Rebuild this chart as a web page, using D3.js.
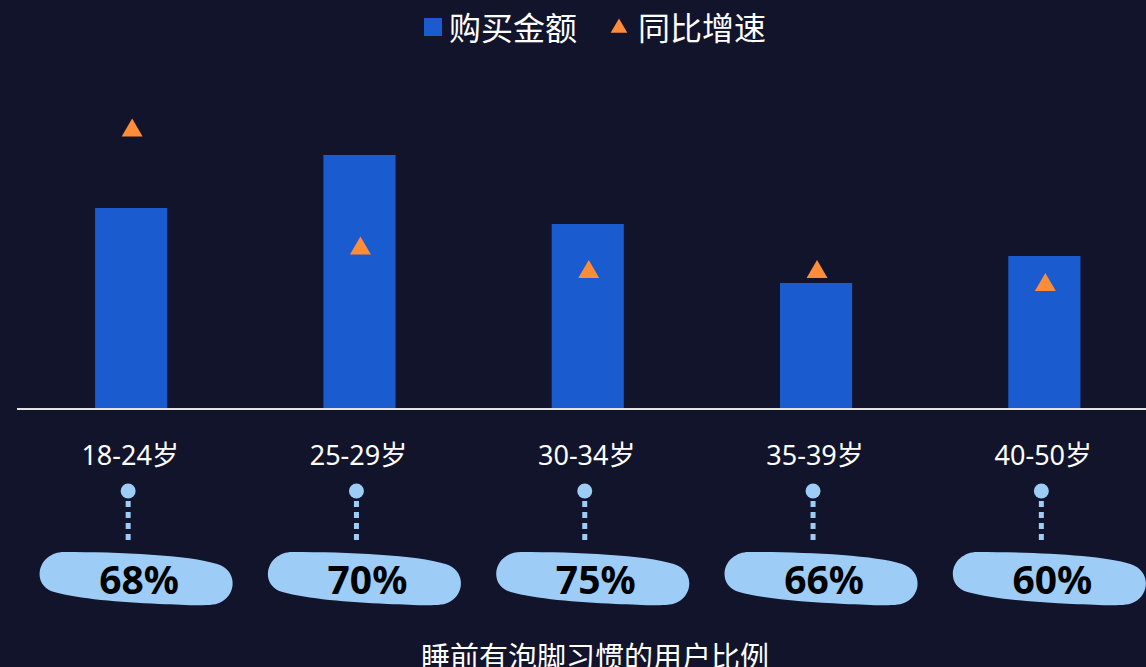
<!DOCTYPE html>
<meta charset="utf-8">
<style>
  body { margin: 0; background: #11142a; overflow: hidden; }
  svg { display: block; }
  text { font-family: "Noto Sans CJK SC", "Noto Sans", sans-serif; }
</style>
<body>
<svg width="1146" height="667"></svg>
<script src="https://d3js.org/d3.v7.min.js"></script>
<script>

// data
var ageGroups = ["18-24岁", "25-29岁", "30-34岁", "35-39岁", "40-50岁"];
var purchaseAmount = [201, 254, 185, 126, 153];
var yoyGrowth = [56.1, 32.5, 27.8, 27.8, 25.2];
var footBathShare = ["68%", "70%", "75%", "66%", "60%"];

var legendNames = ["购买金额", "同比增速"];
var bottomTitle = "睡前有泡脚习惯的用户比例";

const svg = d3.select("svg"),
  width = +svg.attr("width"),
  height = +svg.attr("height");

const barColor = "#1a5bcf",
  triColor = "#ff8c38",
  pillColor = "#9dcdf7";

const baseY = 409;

// scales
const x = d3.scaleBand()
  .domain(ageGroups)
  .range([17, 17 + 228.3 * 5])
  .paddingInner(0.684)
  .paddingOuter(0.342);

const yBar = d3.scaleLinear().domain([0, 300]).range([baseY, baseY - 300]);
const yTri = d3.scaleLinear().domain([0, 60]).range([baseY, baseY - 300]);

const cx = d => x(d) + x.bandwidth() / 2;

// bars
svg.append("g").selectAll("rect")
  .data(ageGroups)
  .enter().append("rect")
  .attr("x", d => x(d))
  .attr("width", x.bandwidth())
  .attr("y", (d, i) => yBar(purchaseAmount[i]))
  .attr("height", (d, i) => baseY - yBar(purchaseAmount[i]))
  .attr("fill", barColor);

// baseline
svg.append("line")
  .attr("x1", 17).attr("x2", width)
  .attr("y1", baseY).attr("y2", baseY)
  .attr("stroke", "#e4e4e4")
  .attr("stroke-width", 2);

// growth triangles
const tri = d3.symbol().type(d3.symbolTriangle).size(190);
svg.append("g").selectAll("path")
  .data(ageGroups)
  .enter().append("path")
  .attr("d", tri)
  .attr("transform", (d, i) => `translate(${cx(d) + 1},${yTri(yoyGrowth[i]) + 2})`)
  .attr("fill", triColor);

// legend
const legend = svg.append("g");
legend.append("rect")
  .attr("x", 424).attr("y", 18)
  .attr("width", 18).attr("height", 18)
  .attr("fill", barColor);
legend.append("text")
  .attr("x", 449).attr("y", 40)
  .attr("fill", "#fff")
  .style("font-size", "32px")
  .text(legendNames[0]);
legend.append("path")
  .attr("d", d3.symbol().type(d3.symbolTriangle).size(120))
  .attr("transform", "translate(619,28)")
  .attr("fill", triColor);
legend.append("text")
  .attr("x", 638).attr("y", 40)
  .attr("fill", "#fff")
  .style("font-size", "32px")
  .text(legendNames[1]);

// category labels
svg.append("g").selectAll("text")
  .data(ageGroups)
  .enter().append("text")
  .attr("x", d => cx(d) - 1)
  .attr("y", 465)
  .attr("text-anchor", "middle")
  .attr("fill", "#fff")
  .style("font-family", "'Noto Sans', 'Noto Sans CJK SC', sans-serif")
  .style("font-size", "27px")
  .text(d => d);

// connector: dot + dotted stem
const conn = svg.append("g").selectAll("g")
  .data(ageGroups)
  .enter().append("g")
  .attr("transform", d => `translate(${cx(d) - 3},0)`);

conn.append("circle")
  .attr("cy", 491)
  .attr("r", 7.5)
  .attr("fill", pillColor);

conn.append("line")
  .attr("y1", 501).attr("y2", 540)
  .attr("stroke", pillColor)
  .attr("stroke-width", 5)
  .attr("stroke-dasharray", "6,5");

// pills with share value
const pillPath = "M25,0 C80,0 150,3 178,12 C198,18 198,42 182,50 C175,55 150,53 120,52 " +
  "C80,50 40,47 15,40 C-3,35 -3,15 8,6 C13,2 18,0 25,0 Z";

const pill = svg.append("g").selectAll("g")
  .data(ageGroups)
  .enter().append("g")
  .attr("transform", d => `translate(${cx(d) - 92},552)`);

pill.append("path")
  .attr("d", pillPath)
  .attr("fill", pillColor);

pill.append("text")
  .attr("x", 100)
  .attr("y", 42)
  .attr("text-anchor", "middle")
  .attr("fill", "#000")
  .style("font-family", "'Noto Sans', sans-serif")
  .style("font-weight", "bold")
  .style("font-size", "39px")
  .text((d, i) => footBathShare[i]);

// bottom caption
svg.append("text")
  .attr("x", 595)
  .attr("y", 668)
  .attr("text-anchor", "middle")
  .attr("fill", "#fff")
  .style("font-size", "29px")
  .text(bottomTitle);

</script>
</body>
